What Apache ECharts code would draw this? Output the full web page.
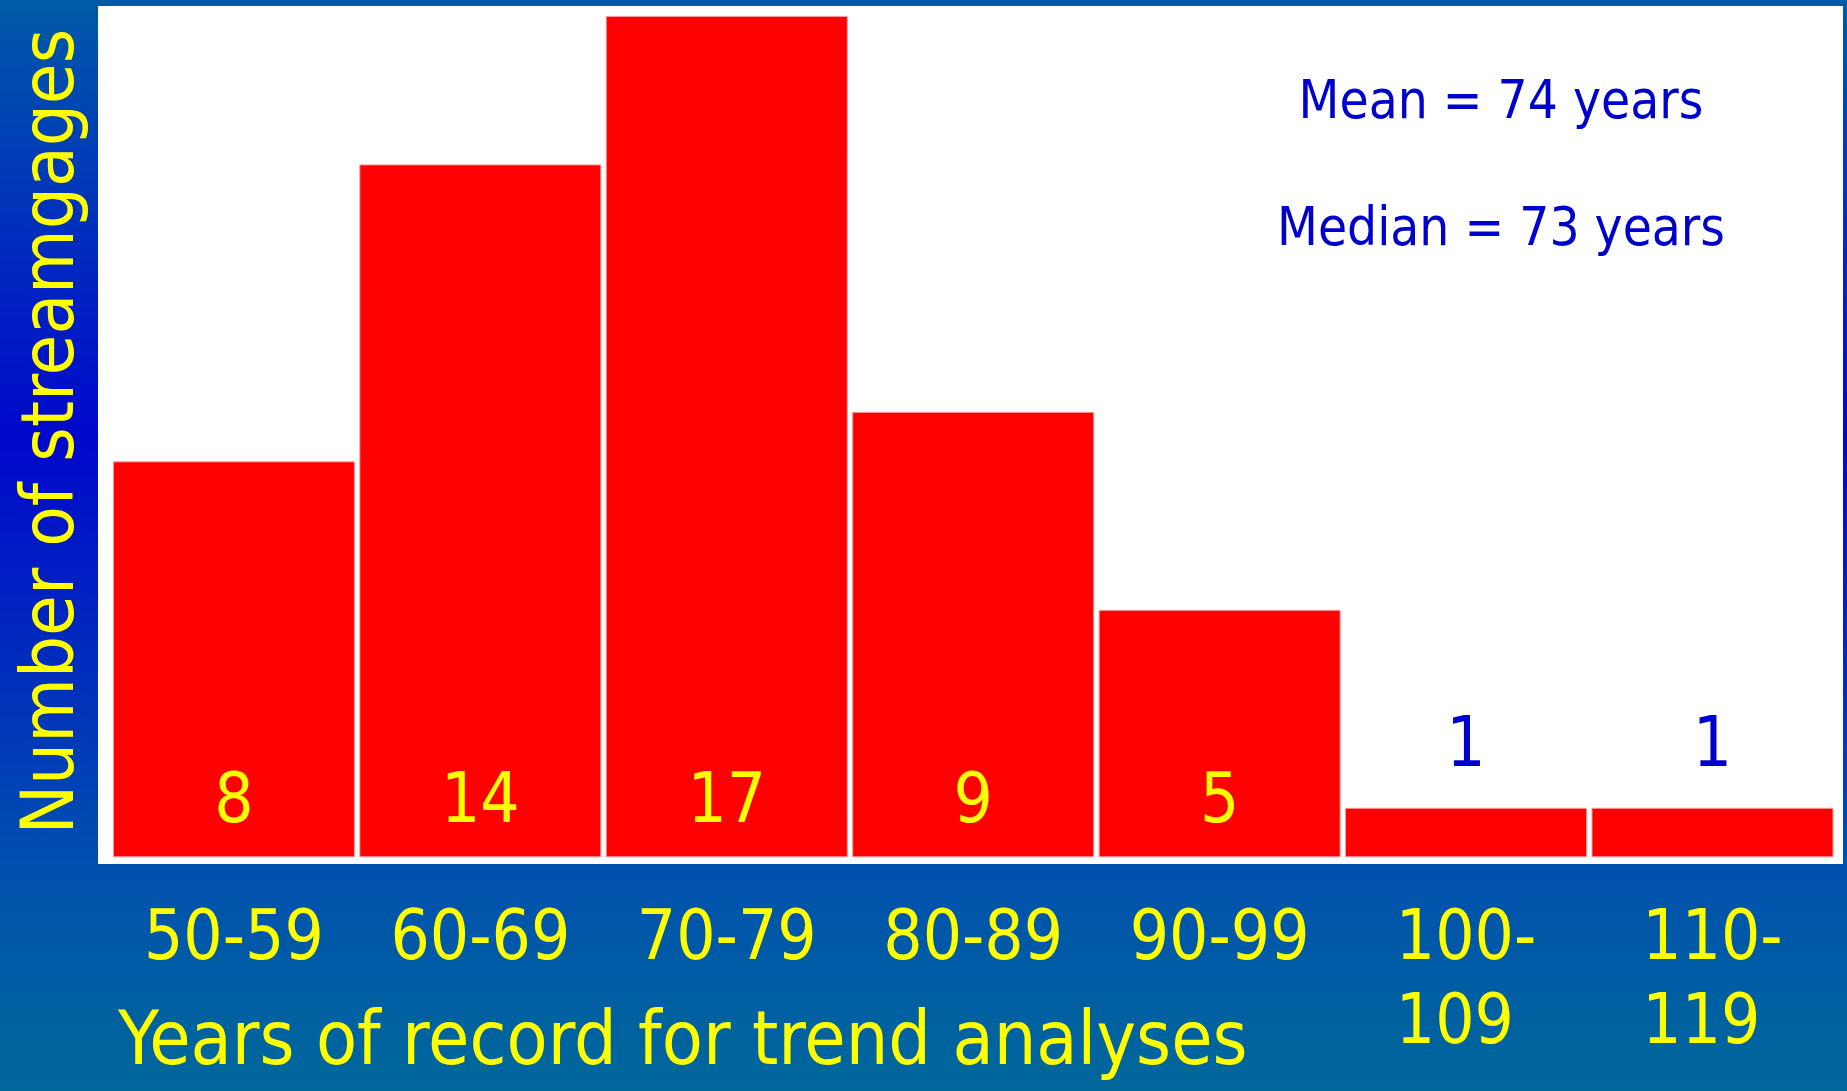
<!DOCTYPE html>
<html>
<head>
<meta charset="utf-8">
<script src="https://cdn.jsdelivr.net/npm/echarts@6/dist/echarts.min.js"></script>
<style>
  html, body { margin: 0; padding: 0; background: #0030bc; }
  #chart { width: 1847px; height: 1091px; }
</style>
</head>
<body>
<div id="chart"></div>
<script>
// Years-of-record classes and how many streamgages fall into each
const categories = ['50-59', '60-69', '70-79', '80-89', '90-99', '100-\n109', '110-\n119'];
const counts = [8, 14, 17, 9, 5, 1, 1];
const yAxisTitle = 'Number of streamgages';
const xAxisTitle = 'Years of record for trend analyses';
const meanText = 'Mean = 74 years';
const medianText = 'Median = 73 years';

const YELLOW = '#FFFF00';
const BLUE_TEXT = '#0000CC';

// Prefer a narrow sans face; fall back to the regular one
const measureCtx = document.createElement('canvas').getContext('2d');
function fontInstalled(name) {
  const probe = 'mmmmmmmmmmlli1WWQ0-9';
  measureCtx.font = '72px monospace';
  const a = measureCtx.measureText(probe).width;
  measureCtx.font = '72px "' + name + '", monospace';
  const b = measureCtx.measureText(probe).width;
  return a !== b;
}
const familyName = ['Liberation Sans Narrow', 'Arial Narrow', 'Nimbus Sans Narrow',
                    'DejaVu Sans Condensed', 'Liberation Sans'].find(fontInstalled) || 'sans-serif';
const FONT = '"' + familyName + '", sans-serif';

// Font size that keeps the text within a given width, never above the nominal size
function fitSize(text, width, nominal) {
  measureCtx.font = '100px ' + FONT;
  const w100 = measureCtx.measureText(text).width;
  return Math.min(nominal, Math.floor(width / w100 * 100 * 10) / 10);
}
const labelSize = fitSize('50-59', 180, 85);
const yNameSize = fitSize(yAxisTitle, 806, 86);
const xNameSize = fitSize(xAxisTitle, 1130, 85);
const statSize = fitSize(meanText, 405, 70);

// Short bars get their count above the bar, in blue
const barData = counts.map(v => v < 2
  ? { value: v, label: { position: 'top', distance: 18, color: BLUE_TEXT } }
  : v);

const chart = echarts.init(document.getElementById('chart'), null, { renderer: 'canvas' });

chart.setOption({
  animation: false,
  grid: { left: 110.7, right: 11.3, top: 6, bottom: 233.7, containLabel: false, outerBoundsMode: 'none' },
  xAxis: {
    type: 'category',
    data: categories,
    axisLine: { show: false },
    axisTick: { show: false },
    axisLabel: {
      interval: 0,
      margin: 42,
      color: YELLOW,
      fontFamily: FONT,
      fontSize: labelSize,
      lineHeight: 84,
      formatter: v => v.split('\n').map(s => '{l|' + s + '}').join('\n'),
      rich: { l: { align: 'left', color: YELLOW, fontFamily: FONT, fontSize: labelSize, lineHeight: 84 } }
    }
  },
  yAxis: {
    type: 'value',
    min: 0,
    max: 17.2,
    name: yAxisTitle,
    nameLocation: 'middle',
    nameRotate: 90,
    nameGap: 110.7 - 50 - 0.557 * yNameSize,
    nameTextStyle: { color: YELLOW, fontFamily: FONT, fontSize: yNameSize },
    axisLine: { show: false },
    axisTick: { show: false },
    axisLabel: { show: false },
    splitLine: { show: false }
  },
  series: [{
    type: 'bar',
    data: barData,
    barWidth: 242,
    itemStyle: { color: '#FF0000', borderColor: '#FF9C9C', borderWidth: 1 },
    label: {
      show: true,
      position: 'insideBottom',
      distance: 11,
      color: YELLOW,
      fontFamily: FONT,
      fontSize: labelSize,
      lineHeight: 84
    }
  }],
  graphic: [
    {
      type: 'rect', z: -20, silent: true,
      shape: { x: 0, y: 0, width: 1847, height: 1091 },
      style: {
        fill: {
          type: 'linear', x: 0, y: 0, x2: 0, y2: 1,
          colorStops: [
            { offset: 0, color: '#005AA8' },
            { offset: 0.27, color: '#0022C2' },
            { offset: 0.40, color: '#0008CC' },
            { offset: 0.64, color: '#0032BA' },
            { offset: 0.79, color: '#0050AE' },
            { offset: 1, color: '#00689A' }
          ]
        }
      }
    },
    {
      type: 'rect', z: -10, silent: true,
      shape: { x: 98, y: 6, width: 1745, height: 858 },
      style: { fill: '#FFFFFF' }
    },
    {
      type: 'text', z: 10, x: 1501, y: 104,
      style: { text: meanText, fill: BLUE_TEXT, fontFamily: FONT, fontSize: statSize,
               align: 'center', verticalAlign: 'middle', textAlign: 'center', textVerticalAlign: 'middle' }
    },
    {
      type: 'text', z: 10, x: 1501, y: 231,
      style: { text: medianText, fill: BLUE_TEXT, fontFamily: FONT, fontSize: statSize,
               align: 'center', verticalAlign: 'middle', textAlign: 'center', textVerticalAlign: 'middle' }
    },
    {
      type: 'text', z: 10, x: 118, y: 1045,
      style: { text: xAxisTitle, fill: YELLOW, fontFamily: FONT, fontSize: xNameSize,
               align: 'left', verticalAlign: 'middle', textAlign: 'left', textVerticalAlign: 'middle' }
    }
  ]
});
</script>
</body>
</html>
